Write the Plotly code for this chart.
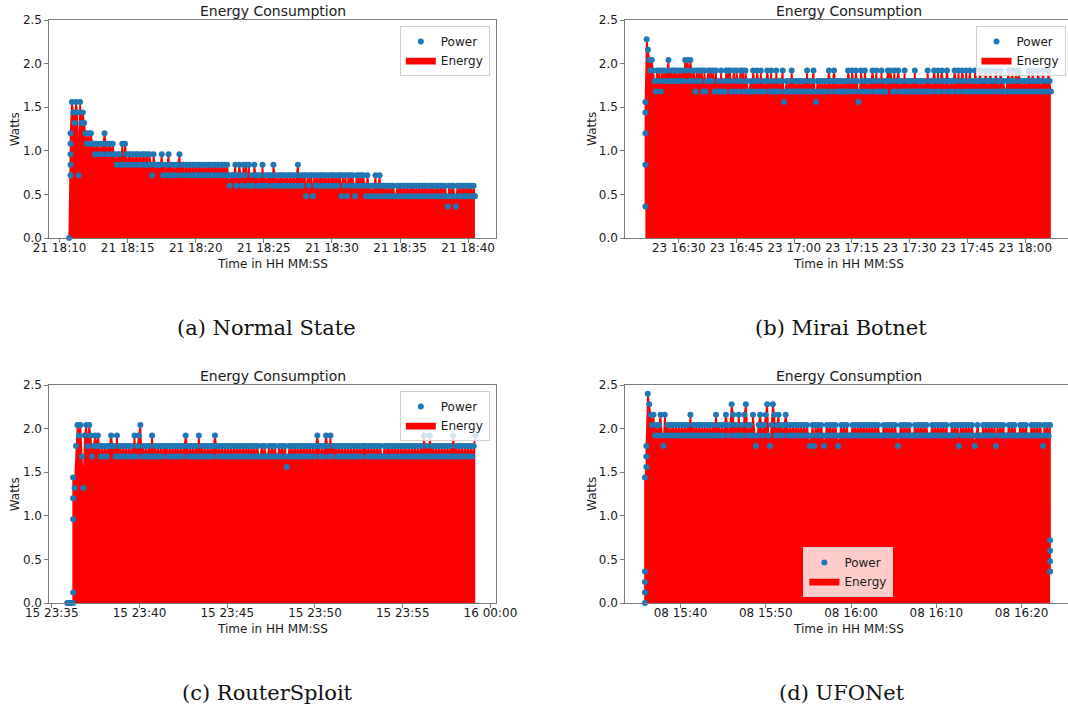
import pandas as pd
import plotly.graph_objects as go

# ---------------- data ----------------
# Power samples are quantised in 0.12 W steps; each character is one sample:
# code index * 0.12 W  ("0"=0.0, "6"=0.72, "A"=1.20, "F"=1.80, "H"=2.04, "K"=2.40).
# Characters inside "( )" were logged within the same time step (vertical jumps).
LEVEL_CODES = "0123456789ABCDEFGHIJK"
WATTS_PER_CODE = 0.12

# (a) Normal State
A_START = "2021-04-21 18:10:42"
A_STEP_S = 6
A_POWER = (
    "0" "(6789A)DCBDC6DBCBA9A9A9" "98998989A9899898"
    "878879798788787887878878787"
    "6877777867678676767786776"
    "76776767677676767767676776767676"
    "566675676576757565766565756566657"
    "6565665656" "5665656756" "5664656646" "5656656565" "6566565664" "6564656654" "656656546"
    "5454564564" "5545454554" "4545545454" "5455454545" "4554545545" "4545545435" "4554354545" "545455454"
)

# (b) Mirai Botnet
B_START = "2021-04-23 16:21:20"
B_STEP_S = 20
B_POWER = (
    "(37ACD)JIHGHGFEG" "FGEG" "FGFGHFGFGGFGFGFG" "FHGHFHG"
    "FGEGFGFGEGEFGFGFGEGEFEGEFEGFG" "GEFGEGFEGFGEGFE"
    "EFEGFEGFEG" "EFEFGFEGEF" "EGEFEFGDEF" "EFEGEFEFEF" "EFEFEGEFEF"
    "GEDFEFEFEF" "EFGFEFGFEF" "EFEFEFEGFE" "GFEGFDEGFE" "GFEFEFGFEG"
    "EFEGEFEFGF" "GFEGEFGFEF" "EGEFEFEFEG" "EFEFEFEFEG" "EFEFGFEGEF"
    "GFEFGFEFEF" "GFEGEFGFEG" "EFGEFEGFEF" "GEFEGFEFGE" "FEGFEFGEFE"
    "EFGEFGEFGE" "GFEFEFEFGE" "FGEFEGFEFG" "EFEGFE"
)

# (c) RouterSploit
C_START = "2021-04-15 23:35:53"
C_STEP_S = 5
C_POWER = (
    "0000(018AC)BFHGH" "EBGHFHGEFG" "FGFEFEFEFF" "GFFEGEFEFE" "FEFEFEGEFG"
    "HEFEFEFEGE" "FEFEFEFFFE" "FEFEFEFEFE" "FGFEFEFEFE" "GEFEFEFEFE"
    "FGFEFEFEFE" "FEFEFEFEFE" "FEFEFEFEFE" "FEEFEFEEFE" "FEFEEFEFEF"
    "DEFEFEFEFE" "FEFEFEFEFE" "FGFEFEFGFE" "GEFFFEFEFE" "FEFEFEFEFE"
    "FEFFFEFEFE" "FEFEFEEFEF" "FEFEFEFEFE" "FEFEFEFEFE" "FEFEGEFEGE"
    "FEFEFEFEFE" "FEFEGEFEFE" "FEFEFEFEFG"
)

# (d) UFONet
D_START = "2021-04-08 15:35:50"
D_STEP_S = 10
D_POWER = (
    "(0123C)(DEF)KJIHIGHG" "HIGFIGHGHG" "HGHGHGHGHG" "HGIGHGHGHG" "HGHGHGHGHG"
    "IGHGHGHIHG" "HJIGHGIGHG" "IJHGHGIGFG" "HIHGHIJGFH" "JIGHIGHGHI"
    "HGHGHGHGHG" "HGHGHGFGHF" "HGHGHGFGHG" "HGHGHGFGHG" "HGHGGGHGHG"
    "HGHGHGHGHG" "HGHGHGGGHG" "HGHGHGHGFG" "HGHGHGHGGG" "HGHGHGHGHG"
    "GGHGHGHGHG" "HGHGGGHGHG" "HFHGHGHGHG" "HGFGHGGGHG" "HGHGHGHFHG"
    "HGHGGGHGHG" "HGGGHGHGHG" "GGHGHGHGHG" "FHGHG(H6543)"
)

CAPTIONS = ["(a) Normal State", "(b) Mirai Botnet", "(c) RouterSploit", "(d) UFONet"]
TITLE = "Energy Consumption"
X_TITLE = "Time in HH MM:SS"
Y_TITLE = "Watts"
SERIES_NAMES = ["Power", "Energy"]


def decode(codes, start, step_s):
    """Turn a code string into (timestamps, watts)."""
    steps, watts = [], []
    k, grouped = 0, False
    for ch in codes:
        if ch == "(":
            grouped = True
            continue
        if ch == ")":
            grouped = False
            k += 1
            continue
        steps.append(k)
        watts.append(round(LEVEL_CODES.index(ch) * WATTS_PER_CODE, 2))
        if not grouped:
            k += 1
    t0 = pd.Timestamp(start)
    return [t0 + pd.Timedelta(seconds=s * step_s) for s in steps], watts


# ---------------- layout / style ----------------
W, H = 1068, 710
FONT = "DejaVu Sans"
BLUE = "#1f77b4"
AXIS_COL = "#7a7a7a"
TXT = "#1a1a1a"


def px_x(p):
    return p / W


def px_y(p):
    return 1 - p / H


panels = [
    dict(start=A_START, step=A_STEP_S, codes=A_POWER,
         xdom=[px_x(49.4), px_x(496.3)], ydom=[px_y(238), px_y(20)],
         xrange=["2021-04-21 18:09:15", "2021-04-21 18:42:04"],
         tick0="2021-04-21 18:00", dtick=300000, mirror_y=True,
         legend=dict(x=px_x(489.8), y=px_y(26), xanchor="right", yanchor="top"),
         cx=272.9, top=0, ylab_x=15.3, cap_x=266),
    dict(start=B_START, step=B_STEP_S, codes=B_POWER,
         xdom=[px_x(625.3), 1.0], ydom=[px_y(238), px_y(20)],
         xrange=["2021-04-23 16:16:07", "2021-04-23 18:11:07"],
         tick0="2021-04-23 16:00", dtick=900000, mirror_y=False,
         legend=dict(x=px_x(1065.5), y=px_y(26), xanchor="right", yanchor="top"),
         cx=848.6, top=0, ylab_x=591.9, cap_x=841),
    dict(start=C_START, step=C_STEP_S, codes=C_POWER,
         xdom=[px_x(49.4), px_x(496.3)], ydom=[px_y(603), px_y(385)],
         xrange=["2021-04-15 23:34:52", "2021-04-16 00:00:20"],
         tick0="2021-04-15 23:00", dtick=300000, mirror_y=True,
         legend=dict(x=px_x(489.8), y=px_y(391), xanchor="right", yanchor="top"),
         cx=272.9, top=365, ylab_x=15.3, cap_x=267),
    dict(start=D_START, step=D_STEP_S, codes=D_POWER,
         xdom=[px_x(625.3), 1.0], ydom=[px_y(603), px_y(385)],
         xrange=["2021-04-08 15:33:32", "2021-04-08 16:25:26"],
         tick0="2021-04-08 15:00", dtick=600000, mirror_y=False,
         legend=dict(x=px_x(848.4), y=px_y(597), xanchor="center", yanchor="bottom"),
         cx=848.6, top=365, ylab_x=591.9, cap_x=842),
]

fig = go.Figure()
layout = dict(
    width=W, height=H, margin=dict(l=0, r=0, t=0, b=0, autoexpand=False),
    paper_bgcolor="white", plot_bgcolor="white",
    font=dict(family=FONT, size=12, color=TXT),
    annotations=[],
)

for k, p in enumerate(panels, start=1):
    sfx = "" if k == 1 else str(k)
    xa, ya = f"x{sfx}", f"y{sfx}"
    leg = "legend" if k == 1 else f"legend{k}"
    t, vals = decode(p["codes"], p["start"], p["step"])

    fig.add_trace(go.Scatter(
        x=t, y=vals, mode="lines", fill="tozeroy", name=SERIES_NAMES[1],
        line=dict(color="red", width=1.5), fillcolor="red",
        xaxis=xa, yaxis=ya, legend=leg, legendrank=2, hoverinfo="skip"))
    fig.add_trace(go.Scatter(
        x=t, y=vals, mode="markers", name=SERIES_NAMES[0],
        marker=dict(color=BLUE, size=6, line=dict(width=0)),
        cliponaxis=False,
        xaxis=xa, yaxis=ya, legend=leg, legendrank=1))

    layout[f"xaxis{sfx}"] = dict(
        domain=p["xdom"], anchor=ya, type="date", range=p["xrange"],
        tickformat="%d %H:%M", tick0=p["tick0"], dtick=p["dtick"], tickangle=0,
        automargin=False, ticklabelstandoff=-5,
        showgrid=False, zeroline=False, showline=True, linecolor=AXIS_COL,
        linewidth=1, mirror=True, ticks="outside", ticklen=4, tickcolor=AXIS_COL,
        tickfont=dict(size=12, color=TXT, family=FONT))
    layout[f"yaxis{sfx}"] = dict(
        domain=p["ydom"], anchor=xa, range=[0, 2.5], dtick=0.5, tickformat=".1f",
        automargin=False,
        showgrid=False, zeroline=False, showline=True, linecolor=AXIS_COL,
        linewidth=1, mirror=p["mirror_y"], ticks="outside", ticklen=4,
        tickcolor=AXIS_COL, tickfont=dict(size=12, color=TXT, family=FONT))
    layout[leg] = dict(
        **p["legend"], bgcolor="rgba(255,255,255,0.8)", bordercolor="#d0d0d0",
        borderwidth=1, font=dict(size=12, family=FONT, color=TXT),
        itemwidth=30, tracegroupgap=0)

    top = p["top"]
    layout["annotations"] += [
        dict(text=TITLE, x=px_x(p["cx"]), y=px_y(top + 11), xref="paper", yref="paper",
             showarrow=False, xanchor="center", yanchor="middle",
             font=dict(size=14, family=FONT, color=TXT)),
        dict(text=X_TITLE, x=px_x(p["cx"]), y=px_y(top + 264), xref="paper", yref="paper",
             showarrow=False, xanchor="center", yanchor="middle",
             font=dict(size=12, family=FONT, color=TXT)),
        dict(text=Y_TITLE, x=px_x(p["ylab_x"]), y=px_y(top + 129), xref="paper", yref="paper",
             showarrow=False, xanchor="center", yanchor="middle", textangle=-90,
             font=dict(size=12, family=FONT, color=TXT)),
        dict(text=CAPTIONS[k - 1], x=px_x(p["cap_x"]), y=px_y(top + 328), xref="paper",
             yref="paper", showarrow=False, xanchor="center", yanchor="middle",
             font=dict(size=21, family="DejaVu Serif", color="#111111")),
    ]

layout["showlegend"] = True
fig.update_layout(**layout)
fig.write_html("out.html")
